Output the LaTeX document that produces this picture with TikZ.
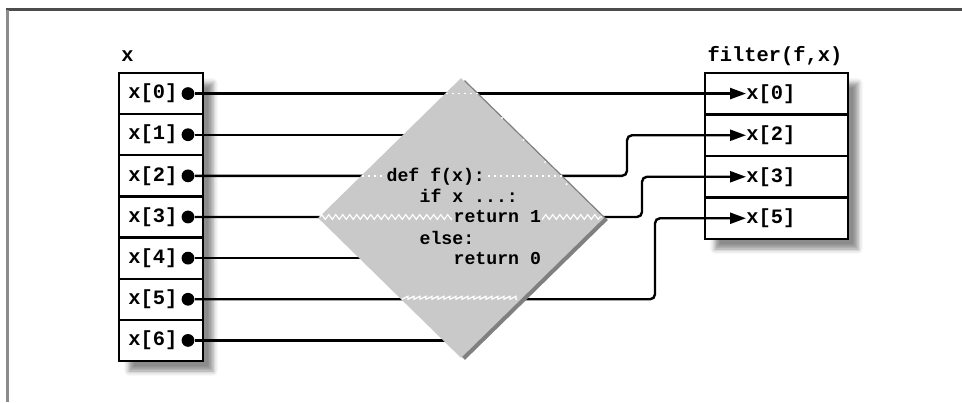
\documentclass[tikz,border=0pt]{standalone}
\usepackage{fontspec}
\setmonofont{Liberation Mono}
\usetikzlibrary{shapes.geometric,arrows.meta,decorations.pathmorphing,shadows.blur,calc}

\begin{document}
\begin{tikzpicture}[x=0.5pt,y=-0.5pt,
  conn/.style={line width=1.2pt, rounded corners=2.5pt},
  arr/.style={conn, -{Triangle[length=8pt,width=5.5pt]}},
  cell/.style={draw, line width=1.1pt, minimum width=42pt, minimum height=20.57pt, inner sep=0pt},
  rcell/.style={draw, line width=1.1pt, minimum width=71.5pt, minimum height=20.75pt, inner sep=0pt},
  celltext/.style={font=\ttfamily\bfseries\fontsize{10.2}{12}\selectfont, inner sep=0pt, anchor=west},
  codeline/.style={font=\ttfamily\bfseries\fontsize{9.1}{10.4}\selectfont, fill=black!21, inner sep=0.6pt, anchor=base west},
  dotmark/.style={circle, fill, minimum size=6.4pt, inner sep=0pt},
  boxshadow/.style={fill=white, inner sep=0pt,
    blur shadow={shadow xshift=5pt, shadow yshift=-5pt, shadow blur radius=2.5pt, shadow opacity=45}},
  hiddendots/.style={white, line width=0.8pt, dash pattern=on 0.8pt off 2.2pt},
  hiddenzig/.style={white, line width=0.6pt, decorate, decoration={zigzag, segment length=3.5pt, amplitude=1.2pt}},
  hiddensaw/.style={white, line width=0.6pt, decorate, decoration={saw, segment length=3pt, amplitude=1.5pt}},
]
\useasboundingbox (0,0) rectangle (962,402);

% frame
\draw[black!70, line width=1.5pt] (6,9.5) -- (962,9.5);
\draw[black!45, line width=1.5pt] (7.5,9.5) -- (7.5,402);

% input list x
\node[boxshadow, minimum width=42pt, minimum height=144pt] (lbox) at (161,217) {};
\foreach \i in {0,...,6} {
  \node[cell] (l\i) at (161,{73+41.14*(\i+0.5)}) {};
  \node[celltext] (lt\i) at (128,{73+41.14*(\i+0.5)}) {x[\i]};
  \node[dotmark] (ld\i) at (188,{73+41.14*(\i+0.5)}) {};
}
\node[celltext, anchor=base west] (xtitle) at (121,61) {x};

% output list filter(f,x)
\node[boxshadow, minimum width=71.5pt, minimum height=83pt] (rbox) at (776.5,156) {};
\foreach \i/\v in {0/0,1/2,2/3,3/5} {
  \node[rcell] (r\i) at (776.5,{73+41.5*(\i+0.5)}) {};
  \node[celltext] (rt\i) at (746,{73+41.5*(\i+0.5)}) {x[\v]};
}
\node[celltext, anchor=base] (ftitle) at (775,61) {filter(f,x)};

% connectors (the diamond is drawn over them afterwards)
\coordinate (fc) at (461,218);
\coordinate (j2) at (627,0);
\coordinate (j3) at (642,0);
\coordinate (j5) at (655,0);
\draw[arr] (ld0) -- (ld0 -| rt0.west);
\draw[conn] (ld1) -- (ld1 -| fc);
\draw[arr] (ld2) -| (j2 |- rt1.west) -- (rt1.west);
\draw[arr] (ld3) -| (j3 |- rt2.west) -- (rt2.west);
\draw[conn] (ld4) -- (ld4 -| fc);
\draw[arr] (ld5) -| (j5 |- rt3.west) -- (rt3.west);
\draw[conn] (ld6) -- (ld6 -| fc);

% the predicate f
\node[diamond, fill=black!50, minimum width=143pt, minimum height=140pt, inner sep=0pt] (fsh) at ($(fc)+(4,2)$) {};
\node[diamond, fill=black!21, minimum width=143pt, minimum height=140pt, inner sep=0pt] (f) at (fc) {};

% traces of the elements passing through f
\coordinate (h0a) at (446,0); \coordinate (h0b) at (480,0);
\coordinate (h2a) at (362,0); \coordinate (h2b) at (562,0);
\coordinate (h3a) at (320,0); \coordinate (h3b) at (602,0);
\coordinate (h5a) at (402,0); \coordinate (h5b) at (517,0);
\draw[hiddendots] (ld0 -| h0a) -- (ld0 -| h0b);
\draw[hiddendots] (ld2 -| h2a) -- (ld2 -| h2b);
\draw[hiddenzig] (ld3 -| h3a) -- (ld3 -| h3b);
\draw[hiddensaw] (ld5 -| h5a) -- (ld5 -| h5b);
\coordinate (glA) at (502,118); \coordinate (glB) at (588,206);
\draw[white, line width=1.1pt, line cap=round, dash pattern=on 0pt off 15.4pt] (glA) -- (glB);

% code of f
\node[codeline] (c1) at (385,181) {def f(x):};
\node[codeline] (c2) at (418,202) {if x ...:};
\node[codeline] (c3) at (452,222.5) {return 1};
\node[codeline] (c4) at (418,244) {else:};
\node[codeline] (c5) at (452,264) {return 0};
\end{tikzpicture}
\end{document}
